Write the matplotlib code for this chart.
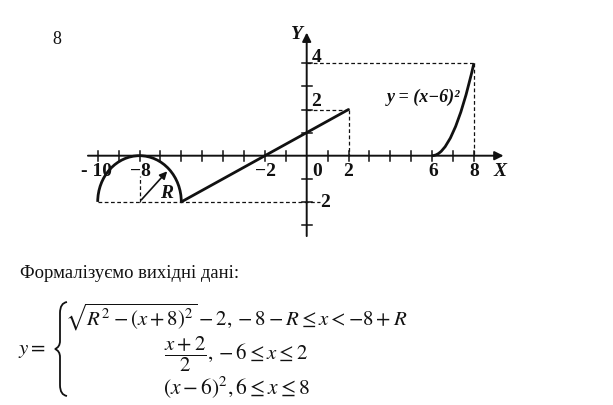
import numpy as np
import matplotlib
matplotlib.use("Agg")
import matplotlib.pyplot as plt
from matplotlib.patches import Arc, PathPatch
from matplotlib.path import Path

plt.rcParams['mathtext.fontset'] = 'stix'
SERIF = 'Liberation Serif'

# --- graph data ---
arc_center = (-8, -2)
arc_radius = 2
line_x = [-6, 2]
line_y = [-2, 2]
par_x = [6, 7, 8]      # quadratic bezier = (x-6)^2 on [6, 8]
par_y = [0, 0, 4]
r_tip = (-8 + 2 ** 0.5, -2 + 2 ** 0.5)

xticks = [-10, -9, -8, -7, -6, -5, -4, -3, -2, -1, 1, 2, 3, 4, 5, 6, 7, 8]
yticks = [-3, -2, -1, 1, 2, 3, 4]

guides = [
    ([0, 8], [4, 4]), ([8, 8], [4, 0]),
    ([0, 2], [2, 2]), ([2, 2], [2, 0]),
    ([-10, 0.65], [-2, -2]), ([-8, -8], [-2, -0.9]),
]

xlabels = [(-10.05, '- 10'), (-7.97, '\u22128'), (-1.96, '\u22122'),
           (0.48, '0'), (2, '2'), (6.06, '6'), (8, '8')]
ylabels = [(0.48, 4.3, '4'), (0.45, 2.38, '2'), (0.9, -2.0, '2')]

fig = plt.figure(figsize=(6.13, 4.06), dpi=100, facecolor='w')
W, H = 613, 406
px0, px1, py0, py1 = 80, 520, 20, 245
ax = fig.add_axes([px0 / W, (H - py1) / H, (px1 - px0) / W, (py1 - py0) / H])
sx, sy, ox, oy = 20.9, 23.1, 306.7, 156.7
ax.set_xlim((px0 - ox) / sx, (px1 - ox) / sx)
ax.set_ylim(-(py1 - oy) / sy, (oy - py0) / sy)
ax.axis('off')

ink = '#111111'
# axes with arrows
ax.annotate('', xy=(9.55, 0), xytext=(-10.6, 0),
            arrowprops=dict(arrowstyle='-|>', mutation_scale=13, lw=1.4, color=ink))
ax.annotate('', xy=(0, 5.45), xytext=(0, -3.6),
            arrowprops=dict(arrowstyle='-|>', mutation_scale=13, lw=1.4, color=ink))
for t in xticks:
    ax.plot([t, t], [-0.22, 0.22], color=ink, lw=1.1)
for t in yticks:
    ax.plot([-0.24, 0.24], [t, t], color=ink, lw=1.1)

for gx, gy in guides:
    ax.plot(gx, gy, color=ink, lw=0.9, ls=(0, (3, 2)))

# curves
ax.add_patch(Arc(arc_center, 2 * arc_radius, 2 * arc_radius, theta1=0, theta2=180,
                 color=ink, lw=2))
ax.plot(line_x, line_y, color=ink, lw=2, solid_capstyle='round')
par = Path(list(zip(par_x, par_y)), [Path.MOVETO, Path.CURVE3, Path.CURVE3])
ax.add_patch(PathPatch(par, fc='none', ec=ink, lw=2))
ax.annotate('', xy=r_tip, xytext=arc_center,
            arrowprops=dict(arrowstyle='-|>', mutation_scale=11, lw=1.2, color=ink))

tk = dict(family=SERIF, fontweight='bold', fontsize=14, color=ink)
for x, s in xlabels:
    ax.text(x, -0.65, s, ha='center', va='center', **tk)
for x, y, s in ylabels:
    ax.text(x, y, s, ha='center', va='center', **tk)
ax.text(9.25, -0.65, 'X', ha='center', va='center', style='italic', **tk)
ax.text(-0.48, 5.27, 'Y', ha='center', va='center', style='italic', **tk)
ax.text(-6.7, -1.58, 'R', ha='center', va='center', style='italic', **tk)
ax.text(7.35, 2.55, 'y = (x\u22126)\u00b2', ha='right', va='center', style='italic',
        family=SERIF, fontweight='bold', fontsize=13, color=ink)

# --- overlay in pixel coords for text below ---
ov = fig.add_axes([0, 0, 1, 1], facecolor='none')
ov.set_xlim(0, W)
ov.set_ylim(H, 0)
ov.axis('off')

ov.text(57, 40, '8', ha='center', va='center', family=SERIF, fontsize=13, color=ink)
ov.text(20, 278, 'Формалізуємо вихідні дані:', ha='left', va='baseline',
        family=SERIF, fontsize=13.4, color=ink)

ov.text(18, 350, r'$y=$', ha='left', va='center', fontsize=15, color=ink)
brace = Path([(67, 303), (60, 304), (60, 314), (60, 342), (60, 348), (55, 350),
              (60, 352), (60, 358), (60, 386), (60, 396), (67, 397)],
             [Path.MOVETO, Path.CURVE3, Path.CURVE3, Path.LINETO, Path.CURVE3, Path.CURVE3,
              Path.CURVE3, Path.CURVE3, Path.LINETO, Path.CURVE3, Path.CURVE3])
ov.add_patch(PathPatch(brace, fc='none', ec=ink, lw=1.3))

ov.text(236, 317, r'$\sqrt{R^2-(x+8)^2}-2,-8-R\leq x<-8+R$', ha='center', va='center',
        fontsize=15, color=ink)
ov.text(236, 354, r'$\dfrac{x+2}{2},-6\leq x\leq 2$', ha='center', va='center',
        fontsize=15, color=ink)
ov.text(236, 387, r'$(x-6)^2,6\leq x\leq 8$', ha='center', va='center',
        fontsize=15.5, color=ink)

fig.savefig('out.png', dpi=100, facecolor='w')
